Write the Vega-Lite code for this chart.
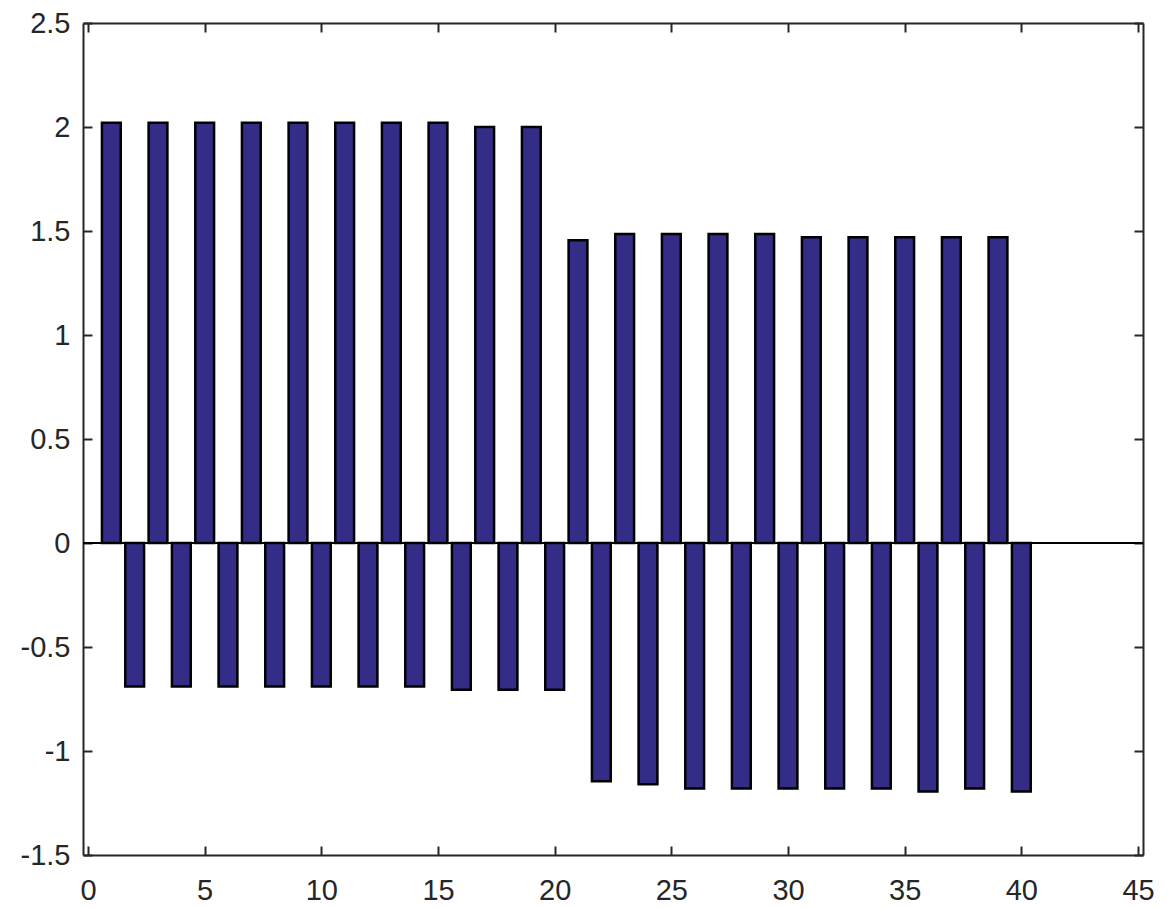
{
  "$schema": "https://vega.github.io/schema/vega-lite/v6.json",
  "width": 1060,
  "height": 832,
  "autosize": {"type": "none"},
  "padding": {"left": 83, "top": 23, "right": 24, "bottom": 53},
  "background": "white",
  "config": {
    "view": {"stroke": null},
    "font": "Liberation Sans",
    "axis": {
      "grid": false,
      "domainColor": "#262626",
      "domainWidth": 2,
      "tickColor": "#262626",
      "tickWidth": 2,
      "tickSize": -9,
      "labelFont": "Liberation Sans",
      "labelFontSize": 29,
      "labelColor": "#262626",
      "title": null
    }
  },
  "data": {
    "values": [
      {"i": 1, "v": 2.02}, {"i": 2, "v": -0.69},
      {"i": 3, "v": 2.02}, {"i": 4, "v": -0.69},
      {"i": 5, "v": 2.02}, {"i": 6, "v": -0.69},
      {"i": 7, "v": 2.02}, {"i": 8, "v": -0.69},
      {"i": 9, "v": 2.02}, {"i": 10, "v": -0.69},
      {"i": 11, "v": 2.02}, {"i": 12, "v": -0.69},
      {"i": 13, "v": 2.02}, {"i": 14, "v": -0.69},
      {"i": 15, "v": 2.02}, {"i": 16, "v": -0.705},
      {"i": 17, "v": 2.0}, {"i": 18, "v": -0.705},
      {"i": 19, "v": 2.0}, {"i": 20, "v": -0.705},
      {"i": 21, "v": 1.455}, {"i": 22, "v": -1.145},
      {"i": 23, "v": 1.485}, {"i": 24, "v": -1.16},
      {"i": 25, "v": 1.485}, {"i": 26, "v": -1.18},
      {"i": 27, "v": 1.485}, {"i": 28, "v": -1.18},
      {"i": 29, "v": 1.485}, {"i": 30, "v": -1.18},
      {"i": 31, "v": 1.47}, {"i": 32, "v": -1.18},
      {"i": 33, "v": 1.47}, {"i": 34, "v": -1.18},
      {"i": 35, "v": 1.47}, {"i": 36, "v": -1.195},
      {"i": 37, "v": 1.47}, {"i": 38, "v": -1.18},
      {"i": 39, "v": 1.47}, {"i": 40, "v": -1.195}
    ]
  },
  "layer": [
    {
      "mark": {"type": "bar", "width": 18.8, "fill": "#342d88", "stroke": "#000000", "strokeWidth": 2.5},
      "encoding": {
        "x": {"field": "i", "type": "quantitative",
              "scale": {"domain": [0, 45], "nice": false, "zero": false},
              "axis": {"orient": "bottom", "values": [0,5,10,15,20,25,30,35,40,45], "labelPadding": 30}},
        "y": {"field": "v", "type": "quantitative",
              "scale": {"domain": [-1.5, 2.5], "nice": false},
              "axis": {"orient": "left", "values": [-1.5,-1,-0.5,0,0.5,1,1.5,2,2.5], "labelPadding": 22, "format": "~g", "labelExpr": "replace(datum.label, '−', '-')"}}
      }
    },
    {
      "mark": {"type": "rule", "color": "#000000", "strokeWidth": 2},
      "encoding": {
        "y": {"datum": 0, "type": "quantitative", "axis": null}
      }
    },
    {
      "mark": {"type": "point", "opacity": 0},
      "encoding": {
        "x": {"field": "i", "type": "quantitative",
              "axis": {"orient": "top", "values": [0,5,10,15,20,25,30,35,40,45], "labels": false}},
        "y": {"field": "v", "type": "quantitative",
              "axis": {"orient": "right", "values": [-1.5,-1,-0.5,0,0.5,1,1.5,2,2.5], "labels": false}}
      }
    }
  ],
  "resolve": {"axis": {"x": "independent", "y": "independent"}}
}
